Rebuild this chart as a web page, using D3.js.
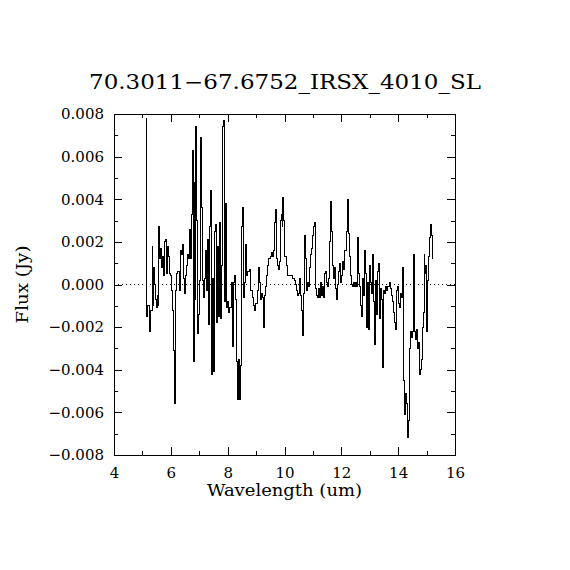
<!DOCTYPE html>
<html>
<head>
<meta charset="utf-8">
<script src="https://cdn.jsdelivr.net/npm/d3@7"></script>
<style>
  body { margin: 0; background: #fff; }
  text { font-family: "DejaVu Serif", "Liberation Serif", serif; fill: #000; }
</style>
</head>
<body>
<div id="chart"></div>
<script>
// spectrum
var wave = [5.15, 5.17, 5.21, 5.27, 5.33, 5.35, 5.38, 5.41, 5.44, 5.48, 5.50, 5.54, 5.56, 5.60, 5.63, 5.67, 5.69, 5.72, 5.76, 5.79,
  5.83, 5.86, 5.90, 5.94, 5.97, 6.01, 6.05, 6.09, 6.12, 6.16, 6.19, 6.23, 6.26, 6.30, 6.33, 6.37, 6.40, 6.44, 6.47, 6.51,
  6.55, 6.58, 6.62, 6.65, 6.69, 6.71, 6.74, 6.78, 6.82, 6.85, 6.87, 6.90, 6.93, 6.97, 7.00, 7.04, 7.07, 7.11, 7.14, 7.18,
  7.21, 7.25, 7.28, 7.32, 7.35, 7.39, 7.42, 7.46, 7.50, 7.53, 7.55, 7.59, 7.62, 7.66, 7.68, 7.72, 7.75, 7.79, 7.82, 7.85,
  7.88, 7.92, 7.95, 7.99, 8.02, 8.06, 8.09, 8.13, 8.16, 8.20, 8.22, 8.26, 8.29, 8.33, 8.35, 8.39, 8.42, 8.46, 8.49, 8.53,
  8.56, 8.60, 8.63, 8.67, 8.70, 8.75, 8.80, 8.84, 8.89, 8.94, 8.97, 9.02, 9.07, 9.10, 9.14, 9.17, 9.21, 9.24, 9.28, 9.31,
  9.35, 9.38, 9.43, 9.47, 9.51, 9.56, 9.61, 9.64, 9.68, 9.70, 9.74, 9.77, 9.81, 9.84, 9.88, 9.91, 9.93, 9.96, 9.99, 10.03,
  10.08, 10.11, 10.16, 10.22, 10.26, 10.31, 10.36, 10.39, 10.44, 10.47, 10.51, 10.56, 10.59, 10.63, 10.65, 10.69, 10.72, 10.76, 10.79, 10.83,
  10.86, 10.90, 10.93, 10.97, 11.00, 11.04, 11.07, 11.11, 11.14, 11.18, 11.21, 11.25, 11.28, 11.32, 11.35, 11.39, 11.42, 11.46, 11.49, 11.53,
  11.57, 11.60, 11.64, 11.67, 11.71, 11.74, 11.78, 11.81, 11.85, 11.88, 11.92, 11.95, 11.99, 12.02, 12.06, 12.09, 12.13, 12.16, 12.20, 12.23,
  12.27, 12.30, 12.34, 12.37, 12.41, 12.45, 12.48, 12.52, 12.55, 12.59, 12.62, 12.66, 12.69, 12.73, 12.76, 12.80, 12.83, 12.87, 12.90, 12.94,
  12.97, 13.01, 13.04, 13.08, 13.11, 13.15, 13.18, 13.22, 13.25, 13.29, 13.32, 13.36, 13.40, 13.43, 13.47, 13.50, 13.54, 13.57, 13.61, 13.64,
  13.68, 13.71, 13.75, 13.78, 13.82, 13.85, 13.89, 13.92, 13.96, 13.99, 14.03, 14.06, 14.10, 14.13, 14.17, 14.20, 14.24, 14.27, 14.31, 14.33,
  14.37, 14.40, 14.44, 14.47, 14.51, 14.54, 14.58, 14.62, 14.65, 14.69, 14.72, 14.76, 14.79, 14.83, 14.86, 14.90, 14.92, 14.96, 14.99, 15.03,
  15.06, 15.10, 15.13, 15.17, 15.20, 15.24];

var flux = [0.0078, -0.0015, -0.0010, -0.0022, -0.0012, 0.0018, -0.0010, 0.0008, 0.0000, -0.0007, -0.0011, -0.0005, -0.0010, 0.0027, 0.0012, 0.0017, 0.0008, 0.0013, 0.0004, 0.0020,
  0.0021, 0.0005, 0.0018, 0.0013, 0.0005, 0.0004, -0.0003, -0.0012, -0.0031, -0.0056, -0.0003, 0.0005, 0.0006, 0.0006, -0.0003, 0.0016, 0.0014, 0.0019, 0.0003, -0.0004,
  0.0004, 0.0009, 0.0014, 0.0012, 0.0026, 0.0012, 0.0033, 0.0063, -0.0036, 0.0048, -0.0007, 0.0074, 0.0030, -0.0023, -0.0014, 0.0002, 0.0069, 0.0036, 0.0002, -0.0006,
  0.0003, 0.0016, -0.0003, 0.0021, -0.0019, 0.0027, 0.0044, -0.0042, 0.0003, -0.0041, 0.0025, 0.0028, -0.0018, 0.0018, -0.0015, 0.0029, -0.0016, 0.0009, 0.0068, 0.0074,
  0.0077, -0.0008, 0.0038, -0.0011, -0.0008, -0.0013, -0.0011, -0.0011, 0.0001, -0.0029, 0.0001, 0.0004, -0.0007, -0.0036, -0.0054, -0.0035, -0.0054, -0.0038, 0.0027, 0.0036,
  -0.0006, 0.0001, 0.0019, 0.0004, 0.0006, 0.0006, 0.0007, -0.0003, -0.0006, -0.0010, -0.0012, -0.0009, -0.0003, 0.0008, 0.0001, -0.0007, -0.0004, -0.0006, -0.0020, -0.0005,
  -0.0001, 0.0004, 0.0009, 0.0012, 0.0013, 0.0015, 0.0013, 0.0016, 0.0029, 0.0035, 0.0012, 0.0009, 0.0007, 0.0011, 0.0030, 0.0033, 0.0027, 0.0041, 0.0030, 0.0013,
  0.0009, 0.0004, 0.0004, 0.0004, 0.0004, 0.0003, 0.0002, 0.0000, -0.0003, -0.0005, -0.0004, 0.0003, -0.0005, -0.0012, -0.0024, -0.0004, 0.0023, 0.0012, -0.0003, 0.0001,
  -0.0001, 0.0008, 0.0014, 0.0017, 0.0023, 0.0027, 0.0029, -0.0002, -0.0005, -0.0006, -0.0002, -0.0006, 0.0001, -0.0005, -0.0001, -0.0006, 0.0005, 0.0006, 0.0001, -0.0001,
  0.0003, 0.0020, 0.0039, 0.0025, 0.0009, 0.0003, 0.0008, -0.0002, -0.0007, 0.0000, 0.0006, 0.0010, 0.0001, 0.0004, 0.0011, 0.0007, 0.0016, 0.0016, 0.0025, 0.0040,
  0.0024, 0.0013, 0.0004, 0.0000, -0.0001, 0.0001, -0.0001, 0.0001, -0.0001, 0.0022, 0.0005, -0.0001, -0.0010, -0.0015, 0.0003, -0.0005, 0.0016, 0.0005, -0.0020, 0.0001,
  -0.0021, 0.0009, 0.0001, -0.0004, 0.0014, -0.0008, -0.0028, 0.0002, -0.0014, 0.0006, 0.0010, -0.0016, -0.0002, -0.0007, -0.0039, -0.0003, -0.0004, -0.0001, -0.0003, -0.0001,
  -0.0001, 0.0001, -0.0002, -0.0005, -0.0008, -0.0013, -0.0018, -0.0021, -0.0003, -0.0001, -0.0009, -0.0011, -0.0004, -0.0006, 0.0008, -0.0045, -0.0061, -0.0051, -0.0056, -0.0072,
  -0.0064, -0.0030, -0.0022, -0.0025, -0.0022, 0.0014, -0.0022, -0.0026, -0.0021, -0.0030, -0.0027, -0.0042, -0.0040, -0.0035, -0.0020, -0.0013, 0.0014, 0.0005, 0.0009, -0.0022,
  0.0002, 0.0013, 0.0022, 0.0028, 0.0023, 0.0012];

var titleText = "70.3011\u221267.6752_IRSX_4010_SL";
var xTicks = [4, 6, 8, 10, 12, 14, 16];
var xMinor = [5, 7, 9, 11, 13, 15];
var yTicks = [-0.008, -0.006, -0.004, -0.002, 0.000, 0.002, 0.004, 0.006, 0.008];
var yMinor = [-0.007, -0.005, -0.003, -0.001, 0.001, 0.003, 0.005, 0.007];

var margin = {top: 114, right: 115, bottom: 115, left: 114},
    width = 570 - margin.left - margin.right,
    height = 570 - margin.top - margin.bottom;

var svg = d3.select("#chart").append("svg")
    .attr("width", 570)
    .attr("height", 570);

var g = svg.append("g")
    .attr("transform", "translate(" + margin.left + "," + margin.top + ")");

var x = d3.scaleLinear().domain([4, 16]).range([0, width]);
var y = d3.scaleLinear().domain([-0.008, 0.008]).range([height, 0]);

var data = wave.map(function(w, i) { return {w: w, f: flux[i]}; });

// minus sign like the reference
var fmtY = function(d) {
  return d3.format(".3f")(d).replace("-", "\u2212");
};

// axes, ticks pointing inwards
function styleAxis(sel) {
  sel.select(".domain").remove();
  sel.selectAll("line").attr("stroke", "#000").attr("stroke-width", 1).attr("shape-rendering", "crispEdges");
  sel.selectAll("text").style("font-size", "15px");
}

g.append("g").attr("transform", "translate(0," + height + ")")
  .call(d3.axisBottom(x).tickValues(xTicks).tickSize(-8).tickPadding(12).tickFormat(d3.format("d")))
  .call(styleAxis);
g.append("g").attr("transform", "translate(0," + height + ")")
  .call(d3.axisBottom(x).tickValues(xMinor).tickSize(-4).tickFormat(""))
  .call(styleAxis);
g.append("g")
  .call(d3.axisTop(x).tickValues(xTicks).tickSize(-8).tickFormat(""))
  .call(styleAxis);
g.append("g")
  .call(d3.axisTop(x).tickValues(xMinor).tickSize(-4).tickFormat(""))
  .call(styleAxis);

g.append("g")
  .call(d3.axisLeft(y).tickValues(yTicks).tickSize(-8).tickPadding(10).tickFormat(fmtY))
  .call(styleAxis);
g.append("g")
  .call(d3.axisLeft(y).tickValues(yMinor).tickSize(-4).tickFormat(""))
  .call(styleAxis);
g.append("g").attr("transform", "translate(" + width + ",0)")
  .call(d3.axisRight(y).tickValues(yTicks).tickSize(-8).tickFormat(""))
  .call(styleAxis);
g.append("g").attr("transform", "translate(" + width + ",0)")
  .call(d3.axisRight(y).tickValues(yMinor).tickSize(-4).tickFormat(""))
  .call(styleAxis);

// frame
g.append("rect")
  .attr("width", width).attr("height", height)
  .attr("fill", "none").attr("stroke", "#000").attr("stroke-width", 1)
  .attr("shape-rendering", "crispEdges");

// zero line
g.append("line")
  .attr("x1", 0).attr("x2", width)
  .attr("y1", y(0)).attr("y2", y(0))
  .attr("stroke", "#000").attr("stroke-width", 1)
  .attr("stroke-dasharray", "1,3")
  .attr("shape-rendering", "crispEdges");

// spectrum, histogram style
var line = d3.line()
  .curve(d3.curveStep)
  .x(function(d) { return x(d.w); })
  .y(function(d) { return y(d.f); });

g.append("path")
  .datum(data)
  .attr("d", line)
  .attr("fill", "none")
  .attr("stroke", "#000")
  .attr("stroke-width", 1)
  .attr("shape-rendering", "crispEdges");

// labels
svg.append("text")
  .attr("x", 285).attr("y", 89)
  .attr("text-anchor", "middle")
  .attr("textLength", 392)
  .attr("lengthAdjust", "spacingAndGlyphs")
  .style("font-size", "20px")
  .text(titleText);

svg.append("text")
  .attr("x", margin.left + width / 2).attr("y", 496)
  .attr("text-anchor", "middle")
  .attr("textLength", 155)
  .attr("lengthAdjust", "spacingAndGlyphs")
  .style("font-size", "16px")
  .text("Wavelength (um)");

svg.append("text")
  .attr("transform", "translate(28," + (margin.top + height / 2) + ") rotate(-90)")
  .attr("text-anchor", "middle")
  .attr("textLength", 78)
  .attr("lengthAdjust", "spacingAndGlyphs")
  .style("font-size", "16px")
  .text("Flux (Jy)");
</script>
</body>
</html>
